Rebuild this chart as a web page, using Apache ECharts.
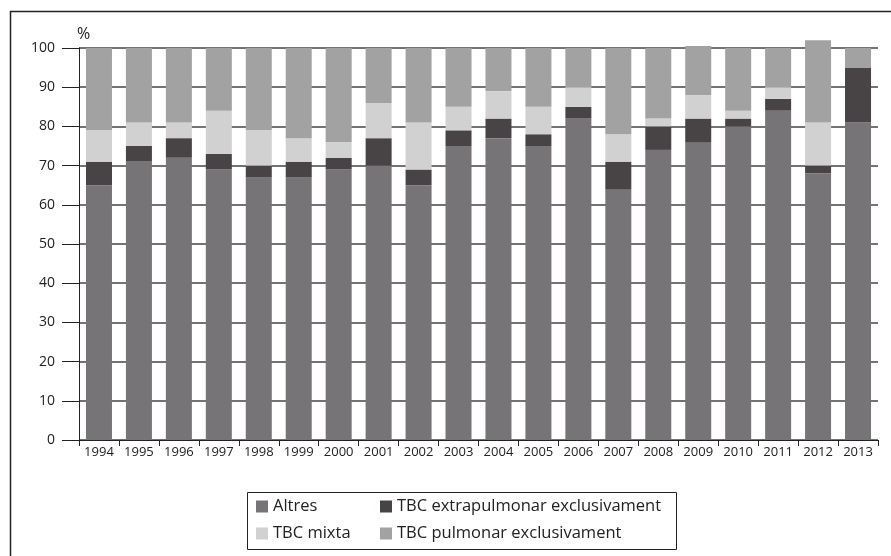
<!DOCTYPE html>
<html>
<head>
<meta charset="utf-8">
<script src="https://cdn.jsdelivr.net/npm/echarts@6/dist/echarts.min.js"></script>
<style>
  html, body { margin: 0; padding: 0; background: #fff; }
  #main { width: 891px; height: 556px; }
</style>
</head>
<body>
<div id="main"></div>
<script>
const years = ['1994', '1995', '1996', '1997', '1998', '1999', '2000', '2001', '2002', '2003',
  '2004', '2005', '2006', '2007', '2008', '2009', '2010', '2011', '2012', '2013']
const altres = [65, 71, 72, 69, 67, 67, 69, 70, 65, 75, 77, 75, 82, 64, 74, 76, 80, 84, 68, 81]
const extrapulmonar = [6, 4, 5, 4, 3, 4, 3, 7, 4, 4, 5, 3, 3, 7, 6, 6, 2, 3, 2, 14]
const mixta = [8, 6, 4, 11, 9, 6, 4, 9, 12, 6, 7, 7, 5, 7, 2, 6, 2, 3, 11, 0]
const pulmonar = [21, 19, 19, 16, 21, 23, 24, 14, 19, 15, 11, 15, 10, 22, 18, 12.5, 16, 10, 21, 5]
const yTicks = [0, 10, 20, 30, 40, 50, 60, 70, 80, 90, 100]

const font = 'Open Sans'
const colors = {
  altres: '#767476',
  extra: '#484446',
  mixta: '#d1d1d1',
  pulmonar: '#a2a2a3'
}

const makeSeries = (name, data, color) => ({
  name: name,
  type: 'bar',
  stack: 'total',
  barWidth: 26,
  clip: false,
  itemStyle: { color: color },
  emphasis: { disabled: true },
  data: data
})

const legendText = { color: '#222', fontSize: 16.5, fontFamily: font }

const chart = echarts.init(document.getElementById('main'))
const option = {
  animation: false,
  textStyle: { fontFamily: font },
  grid: { left: 79, right: 13, top: 48, bottom: 116 },
  xAxis: {
    type: 'category',
    data: years,
    axisLine: { lineStyle: { color: '#222', width: 1 } },
    axisTick: { show: true, length: 6, lineStyle: { color: '#222' } },
    axisLabel: { interval: 0, color: '#222', fontSize: 13, margin: 6, fontFamily: font }
  },
  yAxis: {
    type: 'value',
    min: yTicks[0],
    max: yTicks[yTicks.length - 1],
    interval: 10,
    axisLine: { show: true, lineStyle: { color: '#222', width: 1 } },
    axisTick: { show: true, length: 17, lineStyle: { color: '#222' } },
    axisLabel: { color: '#222', fontSize: 14, margin: 24, fontFamily: font },
    splitLine: { show: true, lineStyle: { color: '#444', width: 1.5 } }
  },
  legend: [
    {
      data: ['Altres', 'TBC mixta'],
      orient: 'vertical',
      left: 256,
      top: 498,
      icon: 'rect',
      itemWidth: 12,
      itemHeight: 12,
      itemGap: 10,
      padding: 0,
      textStyle: legendText
    },
    {
      data: ['TBC extrapulmonar exclusivament', 'TBC pulmonar exclusivament'],
      orient: 'vertical',
      left: 380,
      top: 498,
      icon: 'rect',
      itemWidth: 12,
      itemHeight: 12,
      itemGap: 10,
      padding: 0,
      textStyle: legendText
    }
  ],
  graphic: [
    {
      type: 'rect',
      left: 8,
      top: 9,
      shape: { width: 900, height: 600 },
      style: { fill: 'none', stroke: '#222', lineWidth: 1.5 },
      silent: true
    },
    {
      type: 'rect',
      left: 245,
      top: 490,
      shape: { width: 429, height: 57 },
      style: { fill: 'none', stroke: '#222', lineWidth: 1 },
      silent: true
    },
    {
      type: 'text',
      left: 77,
      top: 26,
      style: { text: '%', fill: '#222', fontSize: 16, fontFamily: font }
    }
  ],
  series: [
    makeSeries('Altres', altres, colors.altres),
    makeSeries('TBC extrapulmonar exclusivament', extrapulmonar, colors.extra),
    makeSeries('TBC mixta', mixta, colors.mixta),
    makeSeries('TBC pulmonar exclusivament', pulmonar, colors.pulmonar)
  ]
}
chart.setOption(option)
</script>
</body>
</html>
